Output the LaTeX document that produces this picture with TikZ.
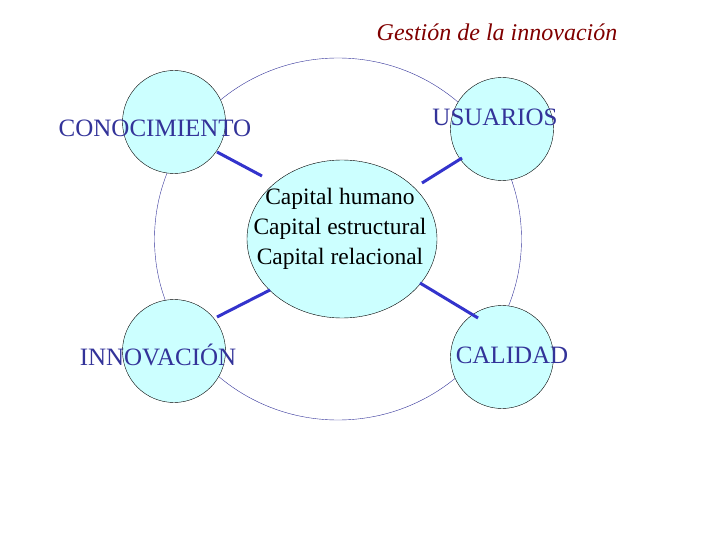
\documentclass[tikz,border=0pt]{standalone}
\usepackage{fontspec}
\setmainfont{Liberation Serif}
\usetikzlibrary{shapes.geometric}
\definecolor{navy}{HTML}{333399}
\definecolor{fillc}{HTML}{CCFFFF}
\definecolor{linkc}{HTML}{3333CC}
\definecolor{titlec}{HTML}{800000}
\begin{document}
\begin{tikzpicture}[x=1pt,y=-1pt,
  small/.style={circle,draw=black,fill=fillc,minimum size=103pt,inner sep=0pt},
  lab/.style={text=navy,font=\fontsize{25}{28}\selectfont},
  link/.style={draw=linkc,line width=3pt}]
\useasboundingbox (0,0) rectangle (720,540);
\node[ellipse,draw=navy,minimum width=367pt,minimum height=362pt,inner sep=0pt] (big) at (338,239) {};
\node[small] (c1) at (174,122) {};
\node[small] (c2) at (502,129) {};
\node[small] (c3) at (174,351) {};
\node[small] (c4) at (502,357) {};
\node[ellipse,draw=black,fill=fillc,minimum width=190pt,minimum height=158pt,inner sep=0pt] (mid) at (342,239) {};
\node[align=center,font=\fontsize{23.5}{30}\selectfont,inner sep=0pt] (midt) at (340,229) {Capital humano\\Capital estructural\\Capital relacional};
\node[lab] (t1) at (155,128) {CONOCIMIENTO};
\node[lab] (t2) at (495,117) {USUARIOS};
\node[lab] (t3) at (158,355) {INNOVACIÓN};
\node[lab] (t4) at (512,355) {CALIDAD};
\node[text=titlec,font=\itshape\fontsize{24}{28}\selectfont] (title) at (497,32) {Gestión de la innovación};
\coordinate (a1) at (217,152); \coordinate (b1) at (262,176);
\coordinate (a2) at (462,158); \coordinate (b2) at (422,183);
\coordinate (a3) at (217,317); \coordinate (b3) at (270,290);
\coordinate (a4) at (478,318); \coordinate (b4) at (420,283);
\draw[link] (a1) -- (b1);
\draw[link] (a2) -- (b2);
\draw[link] (a3) -- (b3);
\draw[link] (a4) -- (b4);
\end{tikzpicture}
\end{document}
